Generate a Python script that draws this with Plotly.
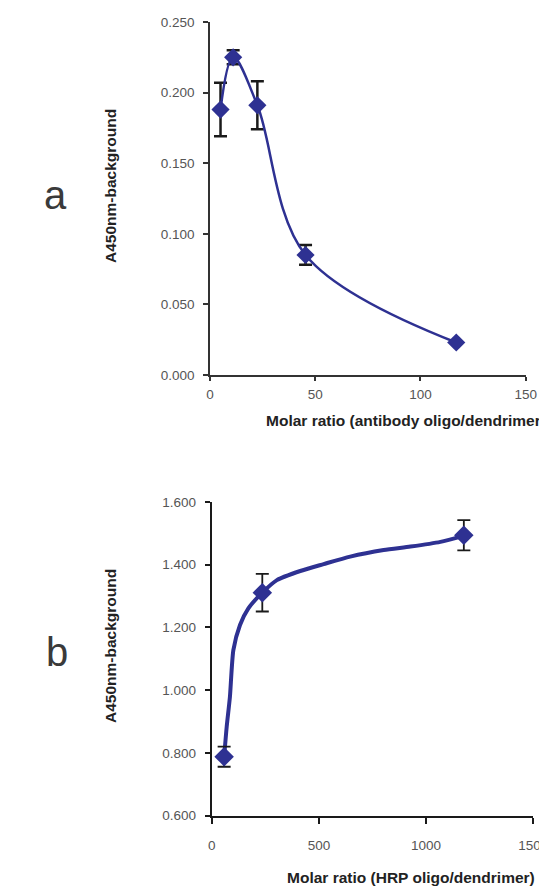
import plotly.graph_objects as go

W, H = 539, 892

# ---- Panel a data ----
a_x = [5, 11, 22.5, 45.4, 117]
a_y = [0.188, 0.225, 0.191, 0.085, 0.023]
a_err = [0.019, 0.005, 0.017, 0.007, 0.0]

# ---- Panel b data ----
b_x = [58, 236, 1176]
b_y = [0.788, 1.311, 1.494]
b_err = [0.032, 0.060, 0.048]
# fitted curve
b_fit_x = [58, 70, 85, 101, 132, 171, 236, 304, 413, 522, 646, 802, 927, 1067, 1176]
b_fit_y = [0.788, 0.884, 0.979, 1.128, 1.208, 1.261, 1.311, 1.351, 1.380, 1.402, 1.426, 1.447, 1.458, 1.473, 1.492]

a_ticks = [0, 0.05, 0.1, 0.15, 0.2, 0.25]
a_ticktext = ["0.000", "0.050", "0.100", "0.150", "0.200", "0.250"]
b_ticks = [0.6, 0.8, 1.0, 1.2, 1.4, 1.6]
b_ticktext = ["0.600", "0.800", "1.000", "1.200", "1.400", "1.600"]

BLUE = "#2E3192"
TICKFONT = dict(family="Liberation Sans", size=13.5, color="#555555")
BOLD = dict(family="Liberation Sans", size=15.5, color="#222222", weight="bold")

def px_x(p):
    return p / W

def px_y(p):
    return 1 - p / H

fig = go.Figure()

# Panel a
fig.add_trace(go.Scatter(
    x=a_x, y=a_y, mode="lines+markers",
    line=dict(color=BLUE, width=2.5, shape="spline", smoothing=1.0),
    marker=dict(symbol="diamond", size=14, color=BLUE),
    error_y=dict(type="data", array=a_err, visible=True, color="#1a1a1a", thickness=2.5, width=6.5),
    xaxis="x", yaxis="y", cliponaxis=False, showlegend=False))

# Panel b
fig.add_trace(go.Scatter(
    x=b_fit_x, y=b_fit_y, mode="lines",
    line=dict(color=BLUE, width=4, shape="spline", smoothing=0.6),
    xaxis="x2", yaxis="y2", cliponaxis=False, showlegend=False))
fig.add_trace(go.Scatter(
    x=b_x, y=b_y, mode="markers",
    marker=dict(symbol="diamond", size=15, color=BLUE),
    error_y=dict(type="data", array=b_err, visible=True, color="#1a1a1a", thickness=1.8, width=6.5),
    xaxis="x2", yaxis="y2", cliponaxis=False, showlegend=False))

axis_common = dict(showgrid=False, zeroline=False, showline=True, ticks="outside",
                   tickfont=TICKFONT, mirror=False, automargin=False,
                   ticklabeloverflow="allow")

fig.update_layout(
    width=W, height=H,
    margin=dict(l=0, r=0, t=0, b=0, pad=0, autoexpand=False),
    paper_bgcolor="white", plot_bgcolor="white",
    xaxis=dict(domain=[px_x(210), px_x(525.7)], range=[0, 150], tickvals=[0, 50, 100, 150],
               anchor="y", linecolor="#333333", linewidth=1.5, tickcolor="#333333",
               ticklen=4, tickwidth=1.5, ticklabelstandoff=2, **axis_common),
    yaxis=dict(domain=[px_y(375), px_y(22)], range=[0, 0.25], tickvals=a_ticks, ticktext=a_ticktext,
               anchor="x", linecolor="#333333", linewidth=1.5, tickcolor="#333333",
               ticklen=5, tickwidth=1.5, ticklabelstandoff=6, **axis_common),
    xaxis2=dict(domain=[px_x(211.7), px_x(533.3)], range=[0, 1500], tickvals=[0, 500, 1000, 1500],
                anchor="y2", linecolor="#1a1a1a", linewidth=2, tickcolor="#1a1a1a",
                ticklen=6, tickwidth=2, ticklabelstandoff=10, **axis_common),
    yaxis2=dict(domain=[px_y(815.7), px_y(502)], range=[0.6, 1.6], tickvals=b_ticks, ticktext=b_ticktext,
                anchor="x2", linecolor="#1a1a1a", linewidth=2, tickcolor="#1a1a1a",
                ticklen=5, tickwidth=2, ticklabelstandoff=6, **axis_common),
)

annotations = [
    dict(text="Molar ratio (antibody oligo/dendrimer)", x=px_x(264), y=px_y(420),
         xanchor="left", yanchor="middle", font=BOLD),
    dict(text="Molar ratio (HRP oligo/dendrimer)", x=px_x(285), y=px_y(877),
         xanchor="left", yanchor="middle", font=BOLD),
    dict(text="A450nm-background", x=px_x(110), y=px_y(186), textangle=-90,
         xanchor="center", yanchor="middle", font=BOLD),
    dict(text="A450nm-background", x=px_x(110), y=px_y(646), textangle=-90,
         xanchor="center", yanchor="middle", font=BOLD),
    dict(text="a", x=px_x(55), y=px_y(195), xanchor="center", yanchor="middle",
         font=dict(family="Liberation Sans", size=40, color="#3a3a3a")),
    dict(text="b", x=px_x(57), y=px_y(652), xanchor="center", yanchor="middle",
         font=dict(family="Liberation Sans", size=40, color="#3a3a3a")),
]
for a in annotations:
    a.update(xref="paper", yref="paper", showarrow=False)
fig.update_layout(annotations=annotations)

fig.write_html("out.html",
               post_script="document.body.style.margin='0';document.body.style.overflow='hidden';")
